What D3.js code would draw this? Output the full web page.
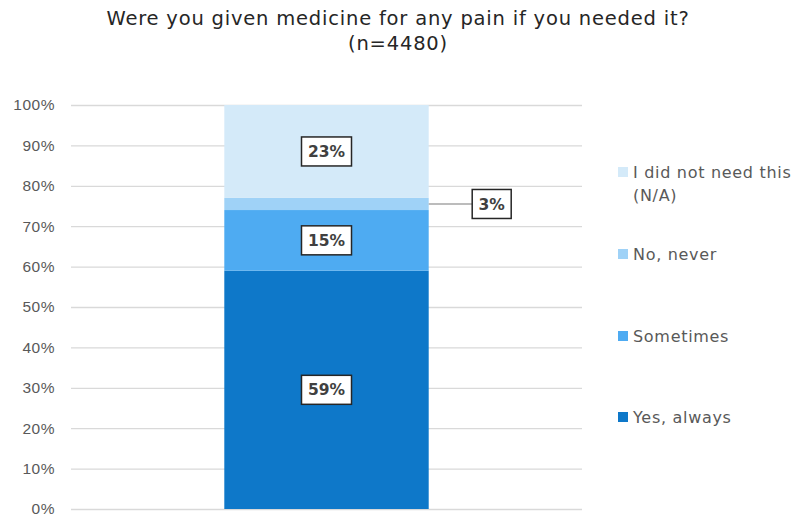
<!DOCTYPE html>
<html>
<head>
<meta charset="utf-8">
<script src="https://cdn.jsdelivr.net/npm/d3@7/dist/d3.min.js"></script>
<style>
  html, body { margin: 0; padding: 0; background: #fff; }
  svg { display: block; font-family: "DejaVu Sans", "Open Sans", sans-serif; }
</style>
</head>
<body>
<svg id="chart" width="797" height="521"></svg>
<script>
// Response categories, bottom of the stack first
const categories = ["Yes, always", "Sometimes", "No, never", "I did not need this (N/A)"];
const values = [59, 15, 3, 23];
const colors = ["#0e78c9", "#4eabf2", "#9fd2f7", "#d4eaf9"];
const yTicks = [0, 10, 20, 30, 40, 50, 60, 70, 80, 90, 100];
const titleLines = ["Were you given medicine for any pain if you needed it?", "(n=4480)"];
const barName = ["All responses"];

const svg = d3.select("#chart");
const margin = { left: 71, right: 215, top: 105, bottom: 12 };
const W = 797, H = 521;

const x = d3.scaleBand().domain(barName).range([margin.left, W - margin.right]).paddingInner(0.6).paddingOuter(0.3);
const y = d3.scaleLinear().domain([0, 100]).range([H - margin.bottom, margin.top]);

// Title
svg.append("g").selectAll("text").data(titleLines).join("text")
  .attr("x", 398).attr("y", (d, i) => 25 + i * 25)
  .attr("text-anchor", "middle")
  .attr("font-size", 19.5).attr("letter-spacing", 0.8).attr("fill", "#262626")
  .text(d => d);

// Gridlines and tick labels
const yAxis = d3.axisLeft(y).tickValues(yTicks).tickFormat(d => d + "%")
  .tickSize(-(W - margin.right - margin.left)).tickPadding(16);
const ga = svg.append("g").attr("transform", `translate(${margin.left},0)`).call(yAxis);
ga.select(".domain").remove();
ga.selectAll(".tick line").attr("stroke", "#d9d9d9").attr("stroke-width", 1.3);
ga.selectAll(".tick text").attr("fill", "#595959").attr("font-size", 15.5).attr("letter-spacing", 0.5);

// Stack the segments
let acc = 0;
const segs = values.map((v, i) => {
  const s = { key: categories[i], v, y0: acc, y1: acc + v, color: colors[i] };
  acc += v;
  return s;
});

const bx = x(barName[0]), bw = x.bandwidth();
svg.append("g").selectAll("rect").data(segs).join("rect")
  .attr("x", bx).attr("width", bw)
  .attr("y", d => y(d.y1)).attr("height", d => y(d.y0) - y(d.y1))
  .attr("fill", d => d.color);

// Value labels in outlined boxes; the thin segment gets a leader line
const lab = svg.append("g");
segs.forEach(d => {
  const cy = y((d.y0 + d.y1) / 2);
  const outside = d.v < 5;
  const cx = outside ? bx + bw + 63 : bx + bw / 2;
  const t = String(d.v) + "%";
  const bwid = outside ? 39 : 50;
  if (outside) {
    lab.append("line")
      .attr("x1", bx + bw).attr("x2", cx - bwid / 2)
      .attr("y1", cy).attr("y2", cy)
      .attr("stroke", "#a6a6a6").attr("stroke-width", 1.3);
  }
  lab.append("rect")
    .attr("x", cx - bwid / 2).attr("y", cy - 14.5)
    .attr("width", bwid).attr("height", 29)
    .attr("fill", "#fff").attr("stroke", "#262626").attr("stroke-width", 1.5);
  lab.append("text")
    .attr("x", cx).attr("y", cy).attr("dy", "0.36em")
    .attr("text-anchor", "middle")
    .attr("font-size", 15.5).attr("font-weight", 700).attr("fill", "#404040")
    .text(t);
});

// Legend, top entry first
const legendRows = [
  { color: colors[3], lines: ["I did not need this", "(N/A)"], y: 172 },
  { color: colors[2], lines: ["No, never"], y: 254 },
  { color: colors[1], lines: ["Sometimes"], y: 336 },
  { color: colors[0], lines: ["Yes, always"], y: 417 }
];
const lg = svg.append("g");
legendRows.forEach(r => {
  lg.append("rect").attr("x", 618).attr("y", r.y - 5).attr("width", 10).attr("height", 10).attr("fill", r.color);
  r.lines.forEach((ln, i) => {
    lg.append("text").attr("x", 633).attr("y", r.y + i * 23).attr("dy", "0.36em")
      .attr("font-size", 16).attr("letter-spacing", 0.7).attr("fill", "#595959").text(ln);
  });
});
</script>
</body>
</html>
